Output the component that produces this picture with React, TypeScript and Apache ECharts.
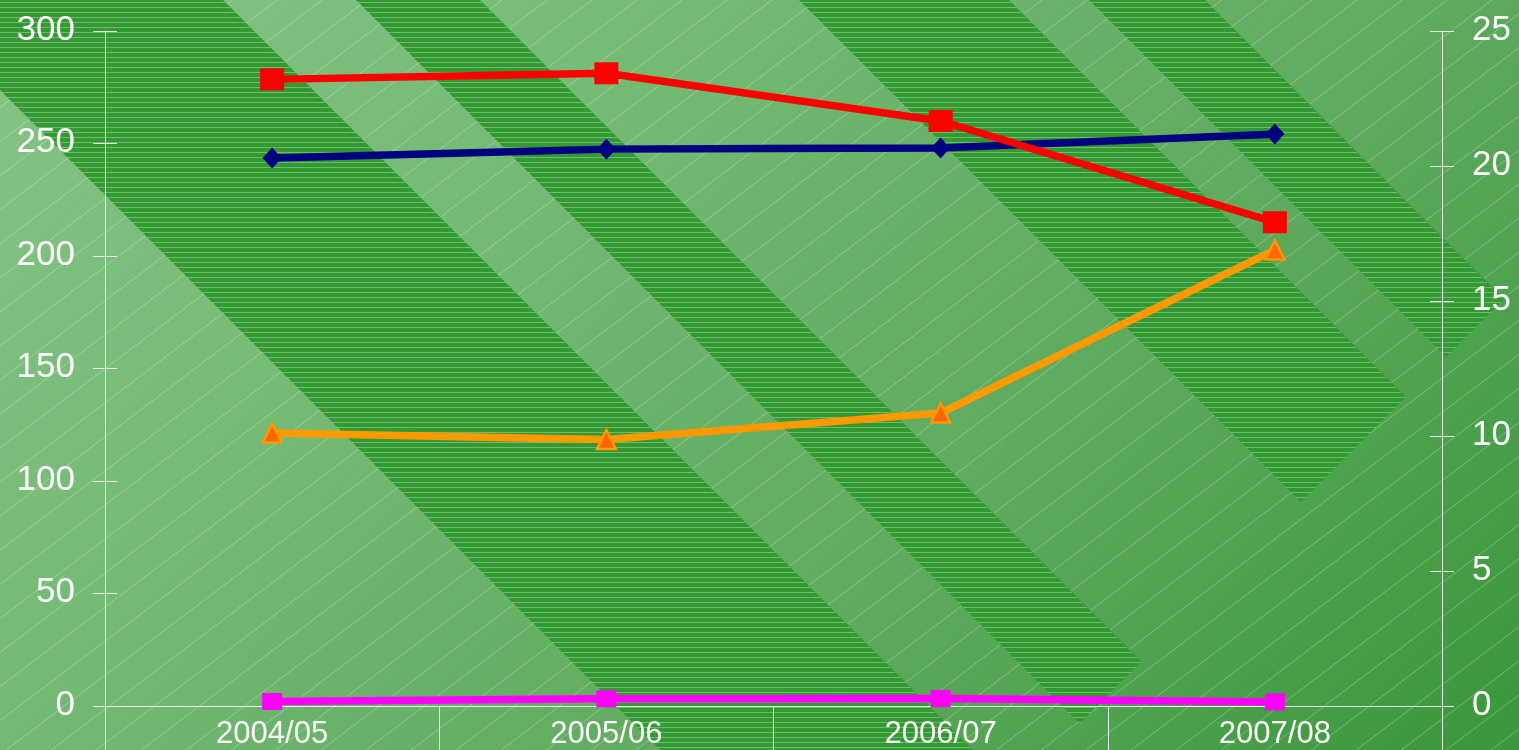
import React, { useEffect, useRef } from 'react';
import * as echarts from 'echarts';

const categories = ['2004/05', '2005/06', '2006/07', '2007/08'];
const redValues = [278.5, 281.2, 260, 215];
const navyValues = [243.6, 247.5, 248, 254.2];
const orangeValues = [121.3, 118.4, 130.2, 202.7];
const magentaValues = [2.0, 3.2, 3.3, 1.8];
const leftTicks = { min: 0, max: 300, interval: 50 };
const rightTicks = { min: 0, max: 25, interval: 5 };

const W = 1519;
const H = 750;
const BANDS: [number, number][] = [
  [-90, 223],
  [356, 480],
  [799, 1009],
  [1089, 1205],
];
const CUT = 1803;
const AX = '#e4f1e4';
const FONT = '"Liberation Sans", Arial, sans-serif';

function buildBackground() {
  const els: any[] = [];
  els.push({
    type: 'rect',
    silent: true,
    z: -30,
    shape: { x: 0, y: 0, width: W, height: H },
    style: {
      fill: {
        type: 'linear',
        x: 0,
        y: 0,
        x2: 1100,
        y2: 1100,
        global: true,
        colorStops: [
          { offset: 0, color: '#84c484' },
          { offset: 0.35, color: '#73b973' },
          { offset: 0.7, color: '#5ba85b' },
          { offset: 1, color: '#3d993d' },
        ],
      },
    },
  });
  const slope = 0.757;
  for (let x0 = 7; x0 < W + H / slope + 45; x0 += 45) {
    els.push({
      type: 'line',
      silent: true,
      z: -29,
      shape: { x1: x0, y1: 0, x2: x0 - H / slope, y2: H },
      style: { stroke: 'rgba(255,255,255,0.28)', lineWidth: 1 },
    });
  }
  for (const [c1, c2] of BANDS) {
    const pts = [
      [c1 - 5, -5],
      [c2 - 5, -5],
      [(CUT + c2) / 2, (CUT - c2) / 2],
      [(CUT + c1) / 2, (CUT - c1) / 2],
    ];
    els.push({
      type: 'polygon',
      silent: true,
      z: -28,
      shape: { points: pts },
      style: { fill: '#339933' },
    });
    for (let y = 2; y < H; y += 5) {
      const xl = c1 + y;
      const xr = Math.min(c2 + y, CUT - y);
      if (xr > xl) {
        els.push({
          type: 'line',
          silent: true,
          z: -27,
          shape: { x1: xl, y1: y + 0.5, x2: xr, y2: y + 0.5 },
          style: { stroke: 'rgba(150,210,150,0.6)', lineWidth: 1 },
        });
      }
    }
  }
  return els;
}

export default function App() {
  const ref = useRef<HTMLDivElement>(null);
  useEffect(() => {
    if (!ref.current) return;
    const chart = echarts.init(ref.current, undefined, { renderer: 'svg' });
    const yBase = {
      type: 'value',
      splitLine: { show: false },
      axisLine: { show: true, lineStyle: { color: AX, width: 1 } },
      axisTick: { show: true, length: 12, lineStyle: { color: AX, width: 1 } },
      axisLabel: {
        color: '#ffffff',
        fontSize: 35,
        margin: 30,
        fontFamily: FONT,
        formatter: '{a|{value}}',
        rich: {
          a: {
            color: '#ffffff',
            fontSize: 35,
            fontFamily: FONT,
            lineHeight: 35,
            padding: [0, 0, 8, 0],
          },
        },
      },
    };
    const yInner = {
      type: 'value',
      splitLine: { show: false },
      axisLine: { show: false },
      axisTick: { show: true, inside: true, length: 12, lineStyle: { color: AX, width: 1 } },
      axisLabel: { show: false },
    };
    chart.setOption({
      animation: false,
      backgroundColor: 'transparent',
      graphic: buildBackground(),
      grid: { left: 105, right: W - 1442, top: 31, bottom: H - 706, containLabel: false },
      xAxis: {
        type: 'category',
        data: categories,
        boundaryGap: true,
        axisLine: { show: true, lineStyle: { color: AX, width: 1 } },
        axisTick: { show: true, length: 50, lineStyle: { color: AX, width: 1 } },
        axisLabel: { color: '#ffffff', fontSize: 31, margin: 11, fontFamily: FONT },
        splitLine: { show: false },
      },
      yAxis: [
        { ...yBase, position: 'left', ...leftTicks },
        { ...yInner, position: 'left', ...leftTicks },
        { ...yBase, position: 'right', ...rightTicks },
        { ...yInner, position: 'right', ...rightTicks },
      ],
      series: [
        {
          type: 'line',
          name: 'navy',
          data: navyValues,
          yAxisIndex: 0,
          symbol: 'diamond',
          symbolSize: [19, 21],
          lineStyle: { color: '#000080', width: 7.5 },
          itemStyle: { color: '#000080' },
          z: 3,
        },
        {
          type: 'line',
          name: 'red',
          data: redValues,
          yAxisIndex: 0,
          symbol: 'rect',
          symbolSize: [24, 22],
          lineStyle: { color: '#ff0000', width: 7.5 },
          itemStyle: { color: '#ff0000' },
          z: 4,
        },
        {
          type: 'line',
          name: 'orange',
          data: orangeValues,
          yAxisIndex: 0,
          symbol: 'triangle',
          symbolSize: [19, 19],
          lineStyle: { color: '#ff9900', width: 7.5 },
          itemStyle: { color: '#ff6600', borderColor: '#ff9900', borderWidth: 2.5 },
          z: 5,
        },
        {
          type: 'line',
          name: 'magenta',
          data: magentaValues,
          yAxisIndex: 0,
          symbol: 'rect',
          symbolSize: [20, 17],
          lineStyle: { color: '#ff00ff', width: 7.5 },
          itemStyle: { color: '#ff00ff' },
          z: 6,
        },
      ],
    });
    return () => chart.dispose();
  }, []);
  return (
    <div
      ref={ref}
      style={{ position: 'fixed', left: 0, top: 0, width: W, height: H }}
    />
  );
}
